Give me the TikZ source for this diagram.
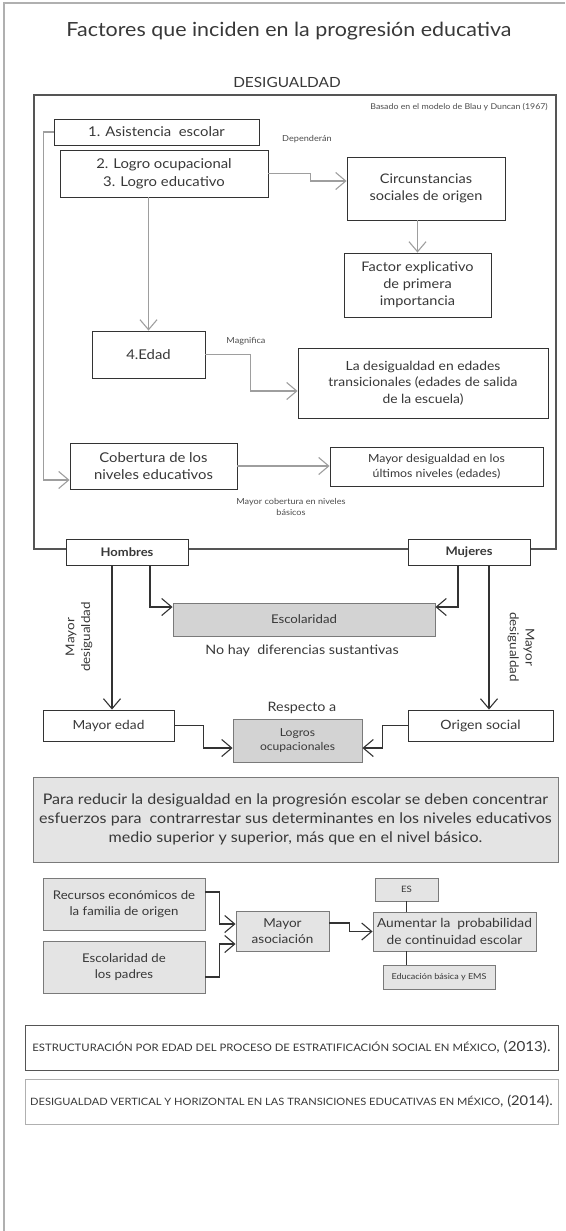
\documentclass[tikz,border=0pt]{standalone}
\usepackage{fontspec}
\setmainfont[FakeStretch=1.1]{Lato}
\usetikzlibrary{arrows.meta,calc}
\newcommand\fz[1]{\fontsize{#1}{\dimexpr #1pt*13/10\relax}\selectfont}
\definecolor{txt}{HTML}{383838}
\definecolor{boxline}{HTML}{333333}
\definecolor{bigline}{HTML}{555555}
\definecolor{frameline}{HTML}{B0B0B0}
\definecolor{garr}{HTML}{9E9E9E}
\definecolor{darr}{HTML}{333333}
\definecolor{gfill}{HTML}{D3D3D3}
\definecolor{lfill}{HTML}{E4E4E4}
\definecolor{gline}{HTML}{7A7A7A}
\begin{document}
\begin{tikzpicture}[x=1pt,y=-1pt,
  every node/.style={text=txt},
  box/.style={draw=boxline, line width=0.9pt, fill=white, inner sep=0pt, align=center, font=\fz{13.5}},
  gbox/.style={draw=gline, line width=0.9pt, fill=gfill, inner sep=0pt, align=center, font=\fz{12}},
  lbox/.style={draw=gline, line width=0.9pt, fill=lfill, inner sep=0pt, align=center, font=\fz{12}},
  refbox/.style={line width=1pt, fill=white, inner sep=0pt, align=center, minimum width=533pt, minimum height=45pt},
  small/.style={font=\fz{8.3}, text=txt!90, inner sep=0pt, align=center},
  garrow/.style={draw=garr, line width=1.1pt, -{Straight Barb[length=10pt,width=17pt,line width=1.1pt]}},
  darrow/.style={draw=darr, line width=1.1pt, -{Straight Barb[length=10pt,width=17pt,line width=1.1pt]}},
  dline/.style={draw=darr, line width=1.1pt}
]
\useasboundingbox (0,0) rectangle (565,1231);
% outer frame (left and top only)
\draw[frameline, line width=1.5pt] (4,1231) -- (4,3) -- (565,3);
% titles
\node[font=\fz{19.5}, inner sep=0pt] (title) at (289,31) {Factores que inciden en la progresión educativa};
\node[font=\fz{14}, inner sep=0pt] (desig) at (287,82) {DESIGUALDAD};
% big box
\draw[bigline, line width=1.6pt] (34,95) rectangle (556,549);
\node[small, anchor=east, font=\fz{8}] (basado) at (548,107) {Basado en el modelo de Blau y Duncan (1967)};
% inner boxes
\node[box, minimum width=205pt, minimum height=26pt] (A) at (156.5,132) {1. Asistencia\ \ escolar};
\node[box, minimum width=208pt, minimum height=47pt] (B) at (164,173.5) {2. Logro ocupacional\\3. Logro educativo};
\node[box, minimum width=158pt, minimum height=63pt, font=\fz{13.2}] (C) at (426,188.5) {Circunstancias\\sociales de origen};
\node[box, minimum width=147pt, minimum height=64pt, font=\fz{13.2}] (D) at (417.5,285) {Factor explicativo\\de primera\\importancia};
\node[box, minimum width=113pt, minimum height=47pt] (E) at (148.5,354.5) {4.Edad};
\node[box, minimum width=250pt, minimum height=70pt, font=\fz{12.6}] (F) at (423,383) {La desigualdad en edades\\transicionales (edades de salida\\de la escuela)};
\node[box, minimum width=167pt, minimum height=46pt] (G) at (153.5,466) {Cobertura de los\\niveles educativos};
\node[box, minimum width=213pt, minimum height=39pt, font=\fz{11.2}] (H) at (436.5,466.5) {Mayor desigualdad en los\\últimos niveles (edades)};
\node[small] (dep) at (307,139) {Dependerán};
\node[small] (mag) at (246,341) {Magnifica};
\node[small] (cob) at (291,507) {Mayor cobertura en niveles\\básicos};
% inner connectors
\draw[garrow] (A.west) -- ++(-10,0) |- ($(G.west)+(0,14)$);
\draw[garrow] (B.east) -- ++(42,0) |- ($(C.west)+(0,-7.5)$);
\draw[garrow] (D.north |- C.south) -- (D.north);
\draw[garrow] (E.north |- B.south) -- (E.north);
\draw[garrow] (E.east) -- ++(45,0) |- ($(F.west)+(0,8)$);
\draw[garrow] (G.east) -- (G.east -| H.west);
% gender section
\node[box, minimum width=122pt, minimum height=26pt, font=\fz{11.8}\bfseries] (Hom) at (127,552) {Hombres};
\node[box, minimum width=122pt, minimum height=26pt, font=\fz{11.8}\bfseries] (Muj) at (469,552) {Mujeres};
\node[gbox, minimum width=262pt, minimum height=33pt] (Esc) at (304,619.5) {Escolaridad};
\node[font=\fz{13}, inner sep=0pt] (nohay) at (302,651) {No hay\ \ diferencias sustantivas};
\node[box, minimum width=131pt, minimum height=31pt, font=\fz{12.5}] (ME) at (108.5,725.5) {Mayor edad};
\node[gbox, minimum width=129pt, minimum height=43pt, font=\fz{11}] (Log) at (297.5,740.5) {Logros\\ocupacionales};
\node[box, minimum width=145pt, minimum height=31pt, font=\fz{12.8}] (Ori) at (480.5,725.5) {Origen social};
\node[font=\fz{13}, inner sep=0pt] (resp) at (302,708) {Respecto a};
\node[font=\fz{12.2}, inner sep=0pt, align=center, rotate=90] (mdl) at (79,637) {Mayor\\desigualdad};
\node[font=\fz{12.2}, inner sep=0pt, align=center, rotate=-90] (mdr) at (521,647) {Mayor\\desigualdad};
\coordinate (h1) at ($(Hom.south)+(23,0)$);
\coordinate (h2) at ($(Hom.south)+(-15,0)$);
\coordinate (m1) at ($(Muj.south)+(-11,0)$);
\coordinate (m2) at ($(Muj.south)+(20,0)$);
\draw[darrow] (h1) |- ($(Esc.west)+(0,-12.5)$);
\draw[darrow] (m1) |- ($(Esc.east)+(0,-12.5)$);
\draw[darrow] (h2) -- (h2 |- ME.north);
\draw[darrow] (m2) -- (m2 |- Ori.north);
\draw[darrow] (ME.east) -- ++(29,0) |- ($(Log.west)+(0,7.5)$);
\draw[darrow] (Ori.west) -- ++(-25,0) |- ($(Log.east)+(0,7.5)$);
% conclusion
\node[lbox, minimum width=525pt, minimum height=85pt, font=\fz{14.6}] (Para) at (295.5,819.5) {Para reducir la desigualdad en la progresión escolar se deben concentrar\\esfuerzos para\ \ contrarrestar sus determinantes en los niveles educativos\\medio superior y superior, más que en el nivel básico.};
% bottom flow
\node[lbox, minimum width=162pt, minimum height=52pt] (Rec) at (124,904) {Recursos económicos de\\la familia de origen};
\node[lbox, minimum width=162pt, minimum height=52pt] (Pad) at (124,967) {Escolaridad de\\los padres};
\node[lbox, minimum width=93pt, minimum height=40pt, font=\fz{12.3}] (Aso) at (282.5,931) {Mayor\\asociación};
\node[lbox, minimum width=63pt, minimum height=23pt, font=\fz{8.8}] (ES) at (406.5,889.5) {ES};
\node[lbox, minimum width=163pt, minimum height=39pt, font=\fz{12.5}] (Aum) at (454.5,931.5) {Aumentar la\ \ probabilidad\\de continuidad escolar};
\node[lbox, minimum width=112pt, minimum height=24pt, font=\fz{8.2}] (EMS) at (439,977) {Educación básica y EMS};
\draw[darrow] ($(Rec.east)+(0,-12)$) -- ++(14,0) |- ($(Aso.west)+(0,-7)$);
\draw[darrow] ($(Pad.east)+(0,10)$) -- ++(14,0) |- ($(Aso.west)+(0,13)$);
\draw[darrow] ($(Aso.east)+(0,-8)$) -- ++(20,0) |- (Aum.west);
\draw[dline] (ES.south) -- (ES.south |- Aum.north);
\draw[dline] (ES.south |- Aum.south) -- (ES.south |- EMS.north);
% references
\node[refbox, draw=bigline] (R1) at (291.5,1047.5) {\fz{10.3}ESTRUCTURACIÓN POR EDAD DEL PROCESO DE ESTRATIFICACIÓN SOCIAL EN MÉXICO\fz{13.8}, (2013).};
\node[refbox, draw=frameline] (R2) at (291.5,1101.5) {\fz{10.1}DESIGUALDAD VERTICAL Y HORIZONTAL EN LAS TRANSICIONES EDUCATIVAS EN MÉXICO\fz{13.4}, (2014).};
\end{tikzpicture}
\end{document}
